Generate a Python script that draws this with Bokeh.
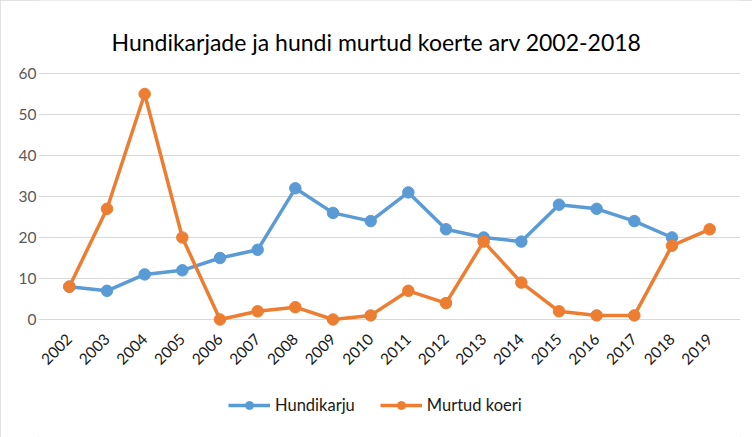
import math
from bokeh.plotting import figure
from bokeh.models import (FactorRange, Range1d, Legend, LegendItem, ColumnDataSource,
                          FixedTicker, Label)
from bokeh.embed import file_html
from bokeh.resources import INLINE

title_text = "Hundikarjade ja hundi murtud koerte arv 2002-2018"
years = ["2002", "2003", "2004", "2005", "2006", "2007", "2008", "2009", "2010",
         "2011", "2012", "2013", "2014", "2015", "2016", "2017", "2018", "2019"]
hundikarju = [8, 7, 11, 12, 15, 17, 32, 26, 24, 31, 22, 20, 19, 28, 27, 24, 20]
murtud_koeri = [8, 27, 55, 20, 0, 2, 3, 0, 1, 7, 4, 19, 9, 2, 1, 1, 18, 22]
y_ticks = [0, 10, 20, 30, 40, 50, 60]

BLUE = "#5B9BD5"
ORANGE = "#ED7D31"
FONT = "Lato"

src_h = ColumnDataSource(dict(x=years[:len(hundikarju)], y=hundikarju))
src_m = ColumnDataSource(dict(x=years[:len(murtud_koeri)], y=murtud_koeri))

# The frame covers the whole height of the canvas, so that the title, the x labels
# and the legend can all be drawn inside it without being clipped.
p = figure(frame_width=702, frame_height=437,
           x_range=FactorRange(*years, range_padding=0.0354, range_padding_units="percent"),
           y_range=Range1d(-28.78, 77.8),
           output_backend="svg", toolbar_location=None, title_location=None,
           min_border_left=38, min_border_right=12, min_border_top=0, min_border_bottom=0)
p.styles = {"outline": "2px solid #D9D9D9", "outline-offset": "-2px"}

p.outline_line_color = None
p.xgrid.grid_line_color = None
ticker = FixedTicker(ticks=y_ticks)
p.yaxis.ticker = ticker
p.ygrid.ticker = ticker
p.ygrid.bounds = (0, len(years))
p.ygrid.grid_line_color = "#D9D9D9"
p.ygrid.grid_line_width = 1

for ax in (p.xaxis, p.yaxis):
    ax.axis_line_color = None
    ax.major_tick_line_color = None
    ax.minor_tick_line_color = None
    ax.major_tick_out = 0
    ax.major_tick_in = 0
    ax.major_label_text_font = FONT
    ax.major_label_text_font_size = "15.5px"

p.yaxis.major_label_text_color = "#595959"
p.yaxis.major_label_standoff = 2
p.xaxis.fixed_location = 0
p.xaxis.major_label_text_color = "#1A1A1A"
p.xaxis.major_label_orientation = math.pi / 4
p.xaxis.major_label_standoff = 17

lh = p.line("x", "y", source=src_h, line_color=BLUE, line_width=3.5, line_join="round")
sh = p.scatter("x", "y", source=src_h, size=11.5, fill_color=BLUE, line_color=BLUE)
lm = p.line("x", "y", source=src_m, line_color=ORANGE, line_width=3.5, line_join="round")
sm = p.scatter("x", "y", source=src_m, size=11.5, fill_color=ORANGE, line_color=ORANGE)

p.add_layout(Label(x=338, y=396, x_units="screen", y_units="screen", text=title_text,
                   text_align="center", text_baseline="alphabetic", text_font=FONT,
                   text_font_size="23px", text_color="#000000"))

legend = Legend(items=[LegendItem(label="Hundikarju", renderers=[lh, sh]),
                       LegendItem(label="Murtud koeri", renderers=[lm, sm])],
                orientation="horizontal", location=(190, 22),
                label_text_font=FONT, label_text_font_size="16.5px", label_text_color="#1A1A1A",
                glyph_width=42, glyph_height=20, label_standoff=5, spacing=25,
                padding=0, margin=0,
                border_line_color=None, background_fill_alpha=0)
p.add_layout(legend)

open("out.html", "w").write(file_html(p, INLINE))
